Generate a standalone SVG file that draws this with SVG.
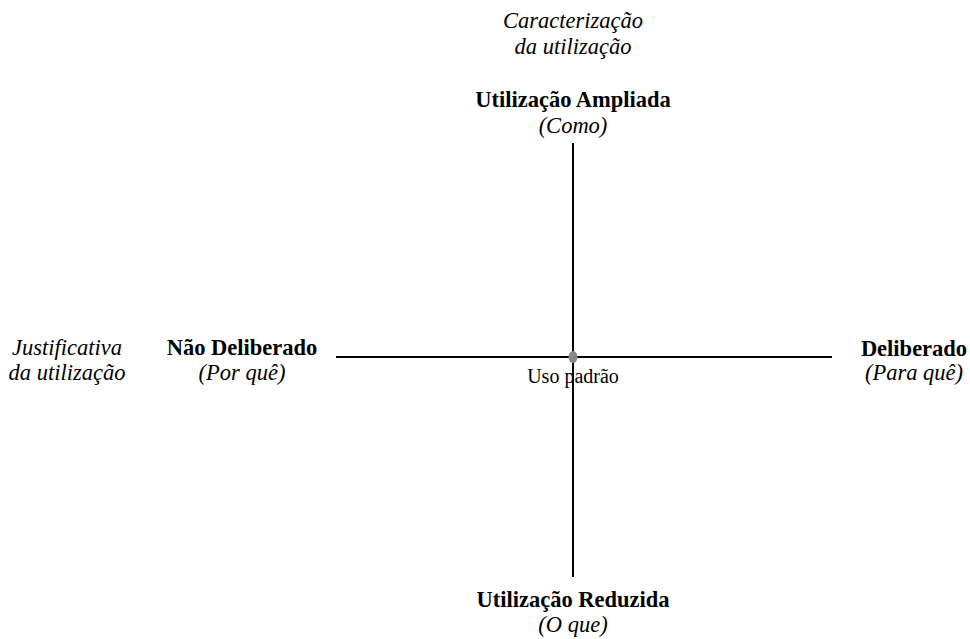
<svg xmlns="http://www.w3.org/2000/svg" width="970" height="639" viewBox="0 0 970 639">
<style>
text{font-family:"Liberation Serif","Times New Roman",serif;fill:#000;text-anchor:middle}
.b{font-weight:bold;font-size:22.5px}
.i{font-style:italic;font-size:22.5px}
.s{font-size:20px}
.ax{stroke:#000;stroke-width:2;fill:none}
</style>
<rect width="970" height="639" fill="#fff"/>
<g id="connectors">
<line class="ax" x1="573" y1="143" x2="573" y2="577"/>
<line class="ax" x1="336" y1="357" x2="832" y2="357"/>
</g>
<g id="center">
<ellipse cx="573" cy="357" rx="4.5" ry="6" fill="#888"/>
<text class="s" x="573" y="383">Uso padrão</text>
</g>
<g id="top-title"><text class="i" x="573" y="28">Caracterização</text><text class="i" x="573" y="54">da utilização</text></g>
<g id="top"><text class="b" x="573" y="107">Utilização Ampliada</text><text class="i" x="573" y="133">(Como)</text></g>
<g id="left-title"><text class="i" x="67" y="355">Justificativa</text><text class="i" x="67" y="380">da utilização</text></g>
<g id="left"><text class="b" x="242" y="355">Não Deliberado</text><text class="i" x="242" y="380">(Por quê)</text></g>
<g id="right"><text class="b" x="914" y="356">Deliberado</text><text class="i" x="914" y="380">(Para quê)</text></g>
<g id="bottom"><text class="b" x="573" y="607">Utilização Reduzida</text><text class="i" x="573" y="632">(O que)</text></g>
</svg>
